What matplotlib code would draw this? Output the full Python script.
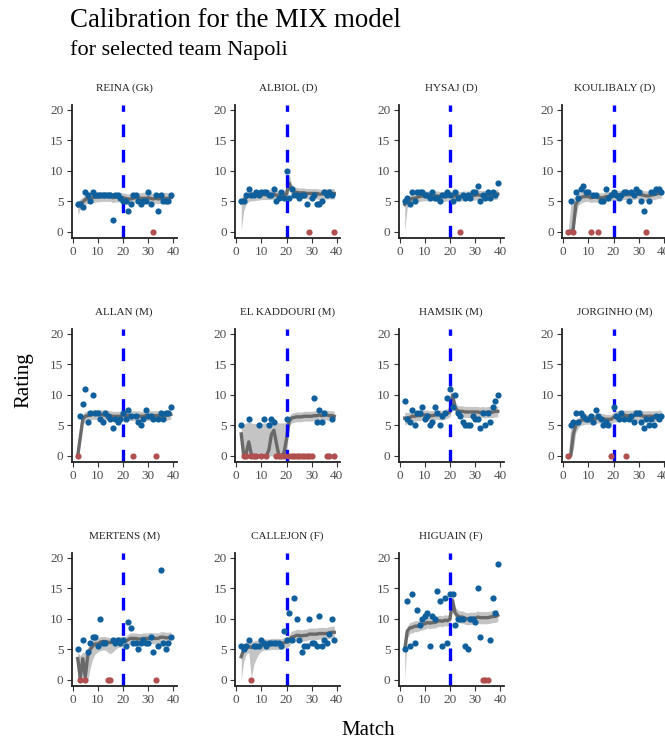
import matplotlib
matplotlib.use('Agg')
import matplotlib.pyplot as plt
import numpy as np

plt.rcParams['font.family'] = ['Liberation Serif', 'DejaVu Serif']

# matches 2..39, rating 0 = did not get a rating (red)
match = list(range(2, 40))
split = 20

reina_pts = [4.5, 4.5, 4, 6.5, 6, 5, 6.5, 6, 6, 6, 6, 6, 6, 6, 2, 6, 6, 5.5, 5, 5, 3.5, 4.5, 6, 6, 5, 4.5, 5, 5, 6.5, 4.5, 0, 6, 3.5, 6, 5, 5, 5, 6]
reina_med = [4.3, 4.6, 4.9, 5.3, 5.5, 5.5, 5.6, 5.7, 5.7, 5.8, 5.8, 5.8, 5.8, 5.8, 5.6, 5.7, 5.7, 5.7, 5.6, 5.5, 5.4, 5.4, 5.5, 5.6, 5.6, 5.5, 5.5, 5.5, 5.6, 5.5, 5.4, 5.5, 5.4, 5.5, 5.5, 5.5, 5.5, 5.6]
reina_lo = [2.8, 3.7, 4.1, 4.5, 4.7, 4.7, 4.8, 4.9, 4.9, 5.0, 5.0, 5.0, 5.0, 5.0, 4.8, 4.9, 4.9, 4.9, 4.8, 4.7, 4.6, 4.6, 4.7, 4.8, 4.8, 4.7, 4.7, 4.7, 4.8, 4.7, 4.6, 4.7, 4.6, 4.7, 4.7, 4.7, 4.7, 4.8]
reina_hi = [5.0, 5.4, 5.7, 6.1, 6.3, 6.4, 6.4, 6.5, 6.5, 6.6, 6.6, 6.6, 6.6, 6.6, 6.4, 6.5, 6.5, 6.5, 6.4, 6.3, 6.2, 6.3, 6.4, 6.4, 6.4, 6.4, 6.5, 6.5, 6.6, 6.4, 6.3, 6.4, 6.3, 6.5, 6.5, 6.5, 6.4, 6.5]

albiol_pts = [5, 5, 6, 7, 6, 6, 6.5, 6, 6.5, 6.5, 6.5, 6, 6, 7, 5, 5.5, 6.5, 5.5, 10, 5.5, 7, 6, 6, 5.5, 6, 6, 4.5, 0, 5.5, 6, 4.5, 4.5, 5, 6.5, 6, 6.5, 6, 0]
albiol_med = [4.8, 5.2, 5.6, 5.9, 5.9, 5.9, 6.0, 6.0, 6.1, 6.1, 6.1, 6.1, 6.1, 6.2, 6.0, 6.0, 6.0, 6.0, 6.2, 8.0, 7.0, 6.6, 6.5, 6.4, 6.4, 6.4, 6.3, 6.3, 6.3, 6.3, 6.3, 6.2, 6.2, 6.3, 6.3, 6.3, 6.3, 6.3]
albiol_lo = [0.3, 3.5, 4.6, 5.0, 5.1, 5.1, 5.2, 5.2, 5.3, 5.3, 5.3, 5.3, 5.3, 5.4, 5.2, 5.2, 5.2, 5.2, 5.4, 6.8, 6.1, 5.7, 5.6, 5.5, 5.5, 5.5, 5.4, 5.4, 5.4, 5.4, 5.4, 5.3, 5.3, 5.4, 5.4, 5.4, 5.4, 5.4]
albiol_hi = [5.6, 6.0, 6.4, 6.7, 6.7, 6.7, 6.8, 6.8, 6.9, 6.9, 6.9, 6.9, 6.9, 7.0, 6.8, 6.8, 6.8, 6.8, 7.1, 9.6, 7.9, 7.4, 7.3, 7.2, 7.2, 7.2, 7.1, 7.1, 7.1, 7.1, 7.1, 7.0, 7.0, 7.1, 7.1, 7.1, 7.1, 7.1]

hysaj_pts = [5, 5.5, 4.5, 6.5, 5, 6.5, 6.5, 6.5, 6, 6, 5.5, 6.5, 5.5, 5.5, 5, 6, 6, 6.5, 6, 5, 6.5, 5.5, 0, 6, 5.5, 6, 5.5, 6.5, 6.5, 7.5, 5, 6, 5.5, 6.5, 5.5, 6.5, 6, 8]
hysaj_med = [4.5, 5.0, 5.2, 5.5, 5.5, 5.7, 5.8, 5.9, 5.9, 5.9, 5.9, 5.9, 5.9, 5.9, 5.8, 5.8, 5.8, 5.9, 5.9, 5.8, 5.9, 5.9, 5.8, 5.9, 5.9, 5.9, 5.9, 6.0, 6.0, 6.1, 6.0, 6.0, 6.0, 6.1, 6.0, 6.1, 6.1, 6.2]
hysaj_lo = [0.2, 4.0, 4.4, 4.7, 4.7, 4.9, 5.0, 5.1, 5.1, 5.1, 5.1, 5.1, 5.1, 5.1, 5.0, 5.0, 5.0, 5.1, 5.1, 5.0, 5.1, 5.1, 5.0, 5.1, 5.1, 5.1, 5.1, 5.2, 5.2, 5.3, 5.2, 5.2, 5.2, 5.3, 5.2, 5.3, 5.3, 5.4]
hysaj_hi = [5.3, 5.8, 6.0, 6.3, 6.3, 6.5, 6.6, 6.7, 6.7, 6.7, 6.7, 6.7, 6.7, 6.7, 6.6, 6.6, 6.6, 6.7, 6.7, 6.6, 6.7, 6.7, 6.6, 6.7, 6.7, 6.7, 6.7, 6.8, 6.8, 6.9, 6.8, 6.8, 6.8, 6.9, 6.8, 6.9, 6.9, 7.0]

koulibaly_pts = [0, 5, 0, 6.5, 5.5, 7, 7.5, 6.5, 6.5, 0, 6, 6, 0, 5, 5, 7, 5.5, 6, 6.5, 6, 5.5, 6, 6.5, 6.5, 5, 6.5, 6, 7, 6.5, 5, 3.5, 0, 5, 6.5, 6.5, 7, 7, 6.5]
koulibaly_med = [0.0, 0.0, 0.5, 4.5, 5.2, 5.6, 5.8, 5.8, 5.8, 5.6, 5.7, 5.7, 5.6, 5.6, 5.6, 5.8, 5.8, 5.9, 6.0, 6.0, 6.0, 6.0, 6.1, 6.1, 6.1, 6.1, 6.1, 6.2, 6.2, 6.1, 6.0, 5.9, 5.9, 6.0, 6.1, 6.2, 6.3, 6.3]
koulibaly_lo = [0.0, 0.0, 0.0, 2.5, 4.3, 4.7, 4.9, 5.0, 5.0, 4.8, 4.9, 4.9, 4.8, 4.8, 4.8, 5.0, 5.0, 5.1, 5.2, 5.2, 5.2, 5.2, 5.3, 5.3, 5.3, 5.3, 5.3, 5.4, 5.4, 5.3, 5.2, 5.1, 5.1, 5.2, 5.3, 5.4, 5.5, 5.5]
koulibaly_hi = [0.2, 4.5, 5.5, 6.0, 6.3, 6.5, 6.6, 6.6, 6.6, 6.4, 6.5, 6.5, 6.4, 6.4, 6.4, 6.6, 6.6, 6.7, 6.8, 6.8, 6.8, 6.8, 6.9, 6.9, 6.9, 6.9, 6.9, 7.0, 7.0, 6.9, 6.8, 6.7, 6.7, 6.8, 6.9, 7.0, 7.1, 7.1]

allan_pts = [0, 6.5, 8.5, 11, 5.5, 7, 10, 7, 7, 6, 5.5, 7, 6.5, 6, 4.5, 6, 5.5, 6, 7, 6, 7.5, 6.5, 0, 6.5, 5.5, 5, 6, 7.5, 6.5, 6.5, 6, 0, 6, 7, 6, 7, 7, 8]
allan_med = [0.0, 3.0, 6.0, 6.5, 6.6, 6.7, 6.8, 6.8, 6.8, 6.8, 6.7, 6.7, 6.7, 6.6, 6.5, 6.5, 6.5, 6.5, 6.6, 6.6, 6.6, 6.6, 6.6, 6.6, 6.6, 6.5, 6.5, 6.6, 6.6, 6.6, 6.6, 6.6, 6.6, 6.6, 6.6, 6.6, 6.7, 6.8]
allan_lo = [0.0, 2.0, 5.2, 5.7, 5.8, 5.9, 6.0, 6.0, 6.0, 6.0, 5.9, 5.9, 5.9, 5.8, 5.7, 5.7, 5.7, 5.7, 5.8, 5.8, 5.8, 5.8, 5.8, 5.8, 5.8, 5.7, 5.7, 5.8, 5.8, 5.8, 5.8, 5.8, 5.8, 5.8, 5.8, 5.8, 5.9, 6.0]
allan_hi = [0.2, 4.0, 6.8, 7.3, 7.4, 7.5, 7.6, 7.6, 7.6, 7.6, 7.5, 7.5, 7.5, 7.4, 7.3, 7.3, 7.3, 7.3, 7.4, 7.4, 7.4, 7.4, 7.4, 7.4, 7.4, 7.3, 7.3, 7.4, 7.4, 7.4, 7.4, 7.4, 7.4, 7.4, 7.4, 7.4, 7.5, 7.6]

kaddouri_pts = [5, 0, 0, 6, 0, 0, 0, 5, 0, 6, 0, 5, 6, 5.5, 0, 0, 0, 0, 6, 0, 0, 0, 0, 0, 0, 0, 0, 0, 0, 9.5, 5.5, 7.5, 5.5, 7, 0, 0, 6, 0]
kaddouri_med = [3.6, 0.0, 0.5, 2.3, 0.3, 0.0, 0.0, 0.0, 0.0, 0.0, 0.0, 1.0, 3.5, 4.2, 2.0, 0.0, 0.0, 0.5, 2.8, 5.6, 6.2, 6.3, 6.4, 6.4, 6.4, 6.5, 6.5, 6.5, 6.5, 6.6, 6.6, 6.7, 6.6, 6.7, 6.7, 6.6, 6.6, 6.5]
kaddouri_lo = [0.0, 0.0, 0.0, 0.0, 0.0, 0.0, 0.0, 0.0, 0.0, 0.0, 0.0, 0.0, 0.0, 0.0, 0.0, 0.0, 0.0, 0.0, 0.0, 4.8, 5.4, 5.5, 5.6, 5.6, 5.6, 5.7, 5.7, 5.7, 5.7, 5.8, 5.8, 5.9, 5.8, 5.9, 5.9, 5.8, 5.8, 5.7]
kaddouri_hi = [5.0, 5.2, 5.4, 5.6, 5.4, 5.3, 5.3, 5.3, 5.3, 5.4, 5.4, 5.5, 5.6, 5.7, 5.5, 5.4, 5.4, 5.4, 5.6, 6.5, 7.0, 7.1, 7.2, 7.2, 7.2, 7.3, 7.3, 7.3, 7.3, 7.4, 7.4, 7.5, 7.4, 7.5, 7.5, 7.4, 7.4, 7.3]

hamsik_pts = [9, 6, 5.5, 7.5, 5, 7, 7, 8, 6, 6.5, 5, 5.5, 8, 7, 5, 6.5, 7, 9.5, 11, 8, 10, 7, 6.5, 5.5, 5, 5, 5, 6.5, 6, 6, 4.5, 7, 5, 7, 5.5, 8, 9, 10]
hamsik_med = [6.2, 6.2, 6.3, 6.5, 6.5, 6.6, 6.6, 6.7, 6.7, 6.7, 6.6, 6.6, 6.7, 6.8, 6.7, 6.7, 6.8, 7.0, 7.2, 10.0, 8.0, 7.4, 7.3, 7.3, 7.2, 7.2, 7.2, 7.2, 7.2, 7.2, 7.1, 7.2, 7.1, 7.2, 7.2, 7.2, 7.3, 7.3]
hamsik_lo = [5.0, 5.3, 5.5, 5.7, 5.7, 5.8, 5.8, 5.9, 5.9, 5.9, 5.8, 5.8, 5.9, 6.0, 5.9, 5.9, 6.0, 6.2, 6.4, 8.5, 7.1, 6.5, 6.4, 6.4, 6.3, 6.3, 6.3, 6.3, 6.3, 6.3, 6.2, 6.3, 6.2, 6.3, 6.3, 6.3, 6.4, 6.4]
hamsik_hi = [7.2, 7.1, 7.1, 7.3, 7.3, 7.4, 7.4, 7.5, 7.5, 7.5, 7.4, 7.4, 7.5, 7.6, 7.5, 7.5, 7.6, 7.8, 8.0, 11.0, 8.9, 8.3, 8.2, 8.2, 8.1, 8.1, 8.1, 8.1, 8.1, 8.1, 8.0, 8.1, 8.0, 8.1, 8.1, 8.1, 8.2, 8.2]

jorginho_pts = [0, 5, 5.5, 7, 5.5, 7, 6.5, 6, 6, 6.5, 5.5, 7.5, 6.5, 6, 5, 5.5, 5, 0, 8, 6.5, 6, 7, 6, 0, 6, 6.5, 5.5, 7, 7, 5.5, 4.5, 6, 5, 6, 5, 6.5, 6, 6.5]
jorginho_med = [0.0, 0.0, 3.5, 5.0, 5.5, 5.8, 5.9, 6.0, 6.0, 6.0, 6.0, 6.1, 6.2, 6.2, 6.1, 6.0, 6.0, 6.0, 6.3, 6.5, 6.5, 6.6, 6.6, 6.6, 6.6, 6.6, 6.6, 6.7, 6.7, 6.6, 6.5, 6.5, 6.5, 6.5, 6.5, 6.5, 6.6, 6.6]
jorginho_lo = [0.0, 0.0, 1.0, 3.8, 4.6, 5.0, 5.1, 5.2, 5.2, 5.2, 5.2, 5.3, 5.4, 5.4, 5.3, 5.2, 5.2, 5.2, 5.5, 5.6, 5.6, 5.7, 5.7, 5.7, 5.7, 5.7, 5.7, 5.8, 5.8, 5.7, 5.6, 5.6, 5.6, 5.6, 5.6, 5.6, 5.7, 5.7]
jorginho_hi = [0.2, 4.8, 5.4, 6.0, 6.3, 6.6, 6.7, 6.8, 6.8, 6.8, 6.8, 6.9, 7.0, 7.0, 6.9, 6.8, 6.8, 6.8, 7.2, 7.4, 7.4, 7.5, 7.5, 7.5, 7.5, 7.5, 7.5, 7.6, 7.6, 7.5, 7.4, 7.4, 7.4, 7.4, 7.4, 7.4, 7.5, 7.5]

mertens_pts = [5, 0, 6.5, 0, 4.5, 6, 7, 7, 5.5, 10, 6, 6, 0, 0, 6.5, 6, 6.5, 6, 6.5, 5.5, 9.5, 8.5, 6, 6, 5, 6, 6.5, 6, 6, 7, 4.5, 0, 5.5, 18, 6, 5, 6, 7]
mertens_med = [3.5, 0.3, 3.5, 0.5, 4.0, 5.0, 5.6, 5.9, 5.9, 6.2, 6.3, 6.3, 6.2, 6.1, 6.2, 6.2, 6.3, 6.3, 6.3, 6.3, 6.6, 6.8, 6.8, 6.8, 6.7, 6.7, 6.8, 6.8, 6.8, 6.9, 6.8, 6.8, 6.8, 7.0, 7.0, 6.9, 6.9, 7.0]
mertens_lo = [0.0, 0.0, 0.0, 0.0, 0.0, 2.0, 3.5, 4.3, 4.6, 4.8, 4.9, 4.9, 4.5, 4.3, 4.6, 5.0, 5.3, 5.4, 5.4, 5.4, 5.7, 5.9, 5.9, 5.9, 5.8, 5.8, 5.9, 5.9, 5.9, 6.0, 5.9, 5.9, 5.9, 6.1, 6.1, 6.0, 6.0, 6.1]
mertens_hi = [4.5, 4.0, 4.5, 4.5, 5.3, 6.0, 6.5, 6.8, 6.8, 7.1, 7.1, 7.1, 7.0, 6.9, 7.0, 7.0, 7.1, 7.1, 7.1, 7.1, 7.5, 7.7, 7.7, 7.7, 7.6, 7.6, 7.7, 7.7, 7.7, 7.8, 7.7, 7.7, 7.7, 7.9, 7.9, 7.8, 7.8, 7.9]

callejon_pts = [5.5, 5, 5.5, 6.5, 0, 5.5, 5.5, 5.5, 6.5, 6, 5.5, 6, 6, 6, 6, 6, 5.5, 8, 6.5, 11, 6.5, 13.5, 10, 6.5, 4.5, 5.5, 5.5, 10, 6, 6, 5.5, 10.5, 5.5, 6.5, 6, 7.5, 10, 6.5]
callejon_med = [3.8, 5.0, 5.2, 5.5, 5.3, 5.5, 5.6, 5.6, 5.7, 5.8, 5.8, 5.8, 5.9, 5.9, 5.9, 5.9, 5.9, 6.1, 6.2, 6.4, 7.0, 7.1, 7.3, 7.3, 7.2, 7.3, 7.3, 7.5, 7.5, 7.5, 7.5, 7.6, 7.6, 7.6, 7.6, 7.7, 7.8, 7.8]
callejon_lo = [0.1, 3.0, 4.2, 4.5, 0.3, 2.5, 3.5, 4.3, 4.7, 4.9, 4.9, 4.9, 5.0, 5.0, 5.0, 5.0, 5.0, 5.2, 5.3, 5.5, 6.1, 6.2, 6.4, 6.4, 6.3, 6.4, 6.4, 6.6, 6.6, 6.6, 6.6, 6.7, 6.7, 6.7, 6.7, 6.8, 6.9, 6.9]
callejon_hi = [5.8, 6.0, 6.2, 6.4, 6.2, 6.4, 6.5, 6.5, 6.6, 6.7, 6.7, 6.7, 6.8, 6.8, 6.8, 6.8, 6.8, 7.0, 7.1, 7.3, 8.0, 8.1, 8.3, 8.3, 8.2, 8.3, 8.3, 8.5, 8.5, 8.5, 8.5, 8.6, 8.6, 8.6, 8.6, 8.7, 8.8, 8.8]

higuain_pts = [5, 13, 5.5, 14, 6, 11.5, 9, 10, 10.5, 11, 5.5, 10.5, 10, 14.5, 13, 5.5, 13.5, 6, 14, 14, 9, 10, 10, 10, 5.5, 5, 10, 10, 9.5, 15, 7, 0, 0, 0, 6.5, 13.5, 11, 19]
higuain_med = [5.0, 8.0, 8.5, 8.6, 8.8, 8.8, 9.0, 9.1, 9.2, 9.4, 9.3, 9.4, 9.4, 9.6, 9.7, 9.6, 9.8, 9.7, 10.0, 13.0, 11.0, 10.5, 10.3, 10.3, 10.1, 10.0, 10.1, 10.1, 10.1, 10.3, 10.2, 10.2, 10.2, 10.2, 10.3, 10.4, 10.4, 10.6]
higuain_lo = [0.1, 6.8, 7.6, 7.7, 7.9, 7.9, 8.1, 8.2, 8.3, 8.5, 8.4, 8.5, 8.5, 8.7, 8.8, 8.7, 8.9, 8.8, 9.1, 11.5, 10.0, 9.5, 9.3, 9.3, 9.1, 9.0, 9.1, 9.1, 9.1, 9.3, 9.2, 9.2, 9.2, 9.2, 9.3, 9.4, 9.4, 9.6]
higuain_hi = [5.5, 8.8, 9.4, 9.5, 9.7, 9.7, 9.9, 10.0, 10.1, 10.3, 10.2, 10.3, 10.3, 10.5, 10.6, 10.5, 10.7, 10.6, 11.0, 14.2, 12.0, 11.5, 11.3, 11.3, 11.1, 11.0, 11.1, 11.1, 11.1, 11.3, 11.2, 11.2, 11.2, 11.2, 11.3, 11.4, 11.4, 11.6]

panels = [
    ('REINA (Gk)', reina_pts, reina_med, reina_lo, reina_hi),
    ('ALBIOL (D)', albiol_pts, albiol_med, albiol_lo, albiol_hi),
    ('HYSAJ (D)', hysaj_pts, hysaj_med, hysaj_lo, hysaj_hi),
    ('KOULIBALY (D)', koulibaly_pts, koulibaly_med, koulibaly_lo, koulibaly_hi),
    ('ALLAN (M)', allan_pts, allan_med, allan_lo, allan_hi),
    ('EL KADDOURI (M)', kaddouri_pts, kaddouri_med, kaddouri_lo, kaddouri_hi),
    ('HAMSIK (M)', hamsik_pts, hamsik_med, hamsik_lo, hamsik_hi),
    ('JORGINHO (M)', jorginho_pts, jorginho_med, jorginho_lo, jorginho_hi),
    ('MERTENS (M)', mertens_pts, mertens_med, mertens_lo, mertens_hi),
    ('CALLEJON (F)', callejon_pts, callejon_med, callejon_lo, callejon_hi),
    ('HIGUAIN (F)', higuain_pts, higuain_med, higuain_lo, higuain_hi),
]

blue = '#0e5f9c'
red = '#b0504e'
W, H = 665, 741

fig = plt.figure(figsize=(W / 100, H / 100), dpi=100)

for k, (name, pts, med, lo, hi) in enumerate(panels):
    r, c = divmod(k, 4)
    left = 71.7 + 163.5 * c
    top = 105 + 224 * r
    ax = fig.add_axes([left / W, 1 - (top + 133) / H, 105 / W, 133 / H])
    ax.fill_between(match, lo, hi, color='#c4c4c4', lw=0, zorder=1)
    ax.plot(match, med, color='#696969', lw=2.4, zorder=2)
    ax.axvline(split, color='#0000ff', lw=2.4, ls=(0, (3.8, 3.8)), zorder=2.5)
    x = np.array(match)
    y = np.array(pts, dtype=float)
    ax.scatter(x[y > 0], y[y > 0], s=20, color=blue, lw=0, zorder=3)
    ax.scatter(x[y == 0], y[y == 0], s=20, color=red, lw=0, zorder=3)

    ax.set_xlim(-0.4, 41.35)
    ax.set_ylim(-1, 20.8)
    ax.set_xticks([0, 10, 20, 30, 40])
    ax.set_yticks([0, 5, 10, 15, 20])
    for s in ['top', 'right']:
        ax.spines[s].set_visible(False)
    for s in ['left', 'bottom']:
        ax.spines[s].set_color('#222222')
        ax.spines[s].set_linewidth(1.3)
    ax.tick_params(length=3.5, width=0.8, color='#333333', labelcolor='#4d4d4d',
                   labelsize=9.5, pad=2.5)
    ax.text(0.5, 1 + 14 / 133, name, transform=ax.transAxes, ha='center',
            va='baseline', fontsize=8, color='#222222')

fig.text(70 / W, 1 - 27 / H, 'Calibration for the MIX model', fontsize=19.4,
         ha='left', va='baseline')
fig.text(70 / W, 1 - 55 / H, 'for selected team Napoli', fontsize=16,
         ha='left', va='baseline')
fig.text(24 / W, 1 - 380 / H, 'Rating', fontsize=15, rotation=90,
         ha='center', va='center')
fig.text(368 / W, 1 - 735 / H, 'Match', fontsize=15, ha='center', va='baseline')

fig.savefig('out.png', dpi=100)
